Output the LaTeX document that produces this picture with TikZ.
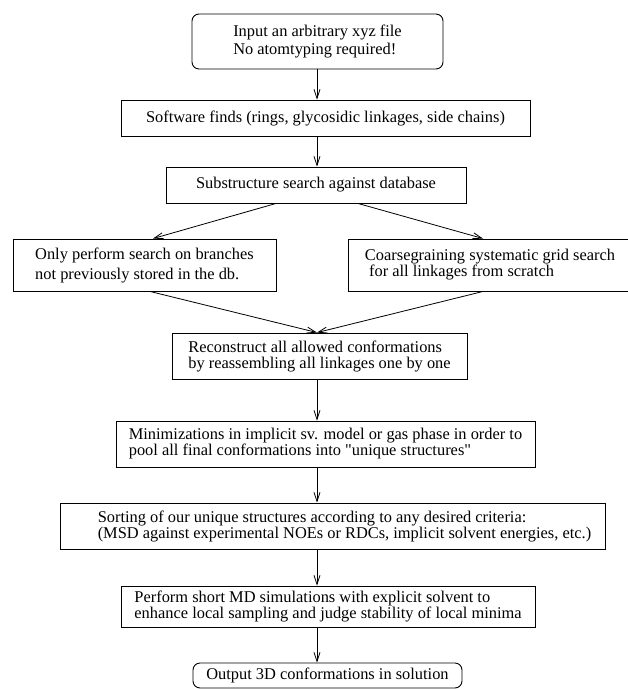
\documentclass[tikz,border=0pt]{standalone}
\usepackage{fontspec}
\setmainfont{Liberation Serif}
\usetikzlibrary{arrows.meta, positioning}

\begin{document}
\begin{tikzpicture}[
    x=1pt, y=-1pt,
    every node/.style={font=\fontsize{16.4}{16}\selectfont},
    stepbox/.style={rectangle, draw=black, line width=0.9pt, align=left, inner sep=0pt},
    endbox/.style={stepbox, rounded corners=7pt},
    flow/.style={-{Straight Barb[length=9pt,width=6pt]}, line width=0.8pt}
]
\useasboundingbox (0,0) rectangle (628,689);
\coordinate (axis) at (317,0);

% Start
\node[endbox, minimum width=251pt, minimum height=55pt] (input) at (317.5,41.5) {Input an arbitrary xyz file\\[1.7pt]No atomtyping required!};

% Detection and lookup
\node[stepbox, minimum width=409pt, minimum height=36pt] (soft) at (325.5,118) {Software finds (rings, glycosidic linkages, side chains)};
\node[stepbox, minimum width=300pt, minimum height=36pt] (subs) at (316,185) {Substructure search against database};

% Two branches
\node[stepbox, minimum width=263pt, minimum height=52pt] (branch) at (144.5,265) {Only perform search on branches\\[4pt]not previously stored in the db.};
\node[stepbox, minimum width=284pt, minimum height=52pt] (grid) at (490,265) {Coarsegraining systematic grid search\\\ for all linkages from scratch};

% Assembly and refinement
\node[stepbox, minimum width=295pt, minimum height=46pt] (recon) at (319.5,356) {Reconstruct all allowed conformations\\by reassembling all linkages one by one};
\node[stepbox, minimum width=419pt, minimum height=46pt] (minim) at (325.5,444) {Minimizations in implicit sv. model or gas phase in order to\\pool all final conformations into \textquotedbl unique structures\textquotedbl};
\node[stepbox, minimum width=545pt, minimum height=46pt] (sort) at (332.5,526) {\hspace*{24pt}Sorting of our unique structures according to any desired criteria:\\\hspace*{24pt}(MSD against experimental NOEs or RDCs, implicit solvent energies, etc.)};
\node[stepbox, minimum width=414pt, minimum height=41pt] (md) at (328,606.5) {Perform short MD simulations with explicit solvent to\\[0.7pt]enhance local sampling and judge stability of local minima};

% End
\node[endbox, minimum width=269pt, minimum height=25pt] (output) at (327.5,675.5) {Output 3D conformations in solution};

% Arrows
\draw[flow] (input.south -| axis) -- (soft.north -| axis);
\draw[flow] (soft.south -| axis) -- (subs.north -| axis);
\draw[flow] ([xshift=-40pt]subs.south) -- ([xshift=8.5pt]branch.north);
\draw[flow] ([xshift=42pt]subs.south) -- ([xshift=-7pt]grid.north);
\draw[flow] ([xshift=5.5pt]branch.south) -- (recon.north -| axis);
\draw[flow] ([xshift=-7pt]grid.south) -- (recon.north -| axis);
\draw[flow] (recon.south -| axis) -- (minim.north -| axis);
\draw[flow] (minim.south -| axis) -- (sort.north -| axis);
\draw[flow] (sort.south -| axis) -- (md.north -| axis);
\draw[flow] (md.south -| axis) -- (output.north -| axis);

\end{tikzpicture}
\end{document}
